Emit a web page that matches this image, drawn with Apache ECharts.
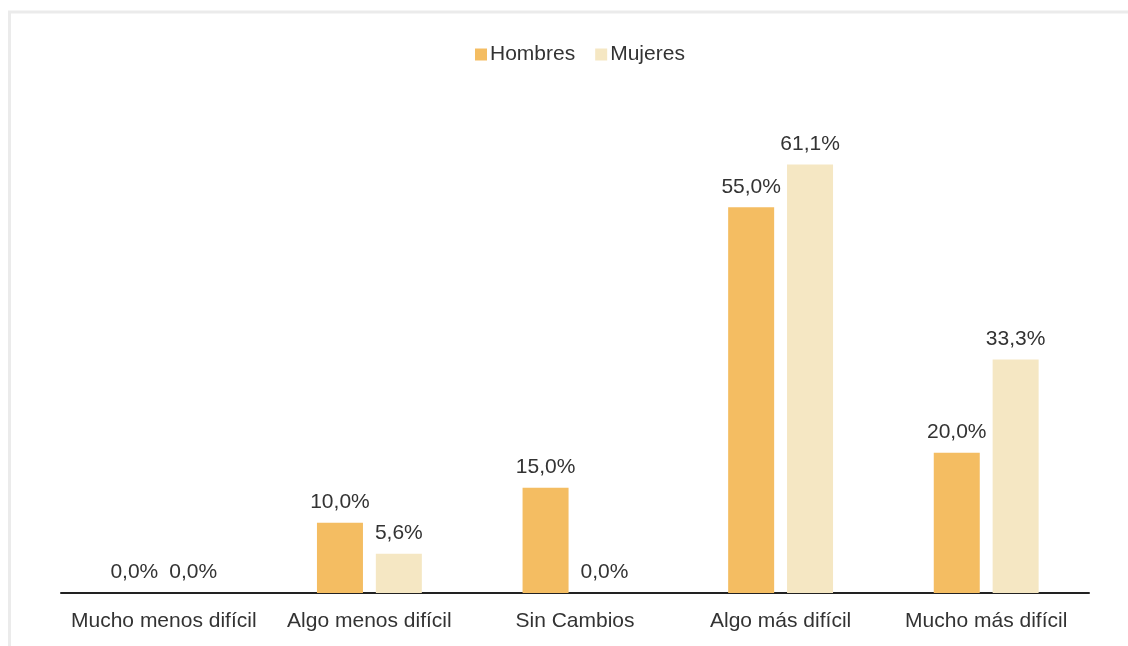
<!DOCTYPE html>
<html><head><meta charset="utf-8">
<script src="https://cdn.jsdelivr.net/npm/echarts@6/dist/echarts.min.js"></script>
<style>html,body{margin:0;padding:0;background:#fff}#c{width:1128px;height:646px}</style>
</head><body><div id="c"></div>
<script>
const categories = ['Mucho menos difícil','Algo menos difícil','Sin Cambios','Algo más difícil','Mucho más difícil'];
const hombres = [0.0, 10.0, 15.0, 55.0, 20.0];
const mujeres = [0.0, 5.6, 0.0, 61.1, 33.3];
const seriesNames = ['Hombres','Mujeres'];
const chart = echarts.init(document.getElementById('c'), null, {renderer:'canvas'});
const fmt = p => p.value.toFixed(1).replace('.', ',') + '%';
const lbl = {show:true, position:'top', distance:10, formatter:fmt, fontFamily:'Liberation Sans, Arial, sans-serif', fontSize:21, color:'#333'};
chart.setOption({
  animation:false,
  textStyle:{fontFamily:'Liberation Sans, Arial, sans-serif'},
  graphic:[{type:'rect', shape:{x:9.5, y:12, width:1200, height:700}, style:{fill:'none', stroke:'#ebebeb', lineWidth:3}, silent:true, z:-10}],
  legend:{data:seriesNames, top:39, left:470, itemWidth:12, itemHeight:12, itemGap:20, icon:'rect',
    textStyle:{fontSize:21, color:'#333', padding:[0,0,0,-2]}},
  grid:{left:61, right:39, top:102, bottom:53, containLabel:false},
  xAxis:{type:'category', data:categories, axisTick:{show:false},
    axisLine:{lineStyle:{color:'#222', width:2}},
    axisLabel:{fontSize:21, color:'#333', margin:18, interval:0}},
  yAxis:{type:'value', min:0, max:70, show:false, splitLine:{show:false}},
  series:[
    {name:seriesNames[0], type:'bar', data:hombres, barWidth:46, barGap:'28%', itemStyle:{color:'#f4bd62'}, label:lbl},
    {name:seriesNames[1], type:'bar', data:mujeres, barWidth:46, itemStyle:{color:'#f5e7c3'}, label:lbl}
  ]
});
</script></body></html>
